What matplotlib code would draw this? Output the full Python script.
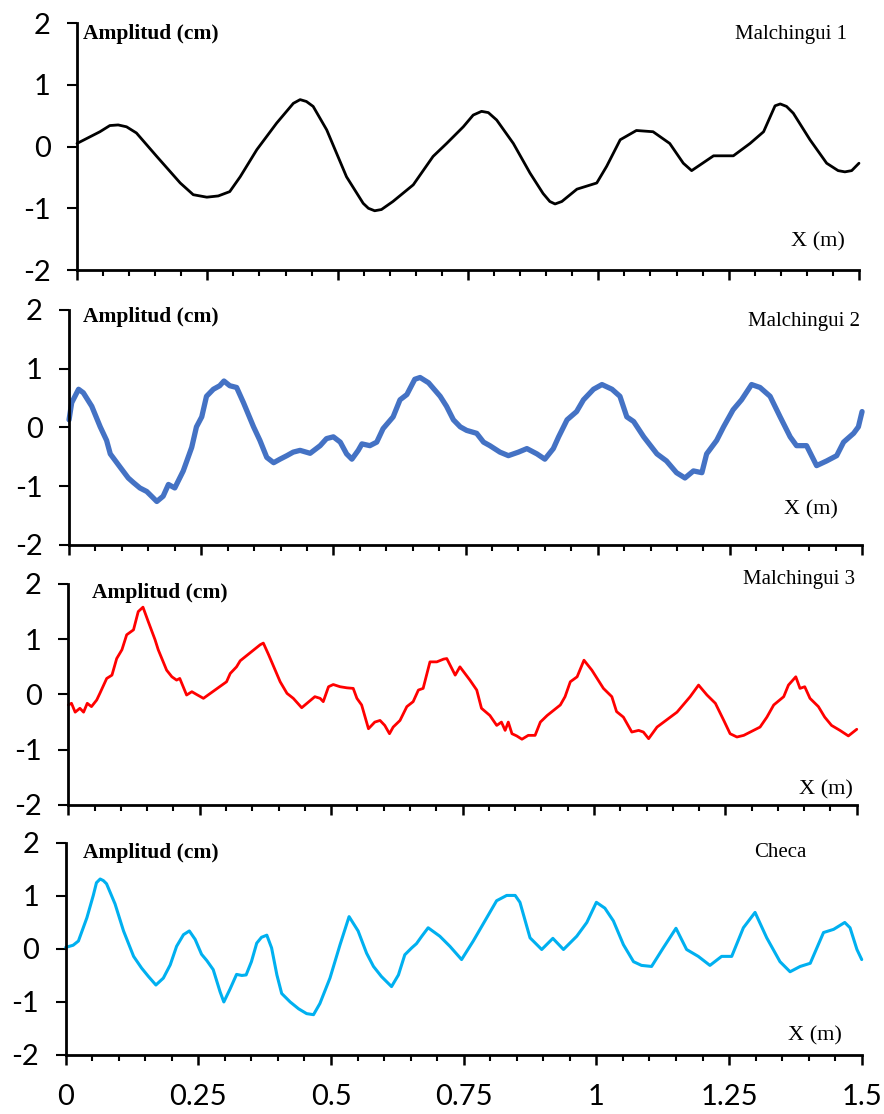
import matplotlib.pyplot as plt
from matplotlib.ticker import MultipleLocator

# -------------------------------------------------
# Data (x in m, amplitude in cm)
# -------------------------------------------------
x_m1 = [0.0, 0.044, 0.063, 0.079, 0.095, 0.114, 0.153, 0.198, 0.223, 0.249,
        0.271, 0.293, 0.313, 0.345, 0.383, 0.415, 0.428, 0.44, 0.453, 0.479,
        0.517, 0.549, 0.559, 0.571, 0.584, 0.606, 0.645, 0.683, 0.709, 0.741,
        0.76, 0.776, 0.789, 0.805, 0.837, 0.869, 0.894, 0.907, 0.917, 0.93,
        0.959, 0.997, 1.016, 1.042, 1.073, 1.105, 1.137, 1.163, 1.179, 1.221,
        1.259, 1.291, 1.317, 1.339, 1.349, 1.361, 1.374, 1.406, 1.438, 1.46,
        1.473, 1.486, 1.5]
y_m1 = [0.05, 0.24, 0.34, 0.35, 0.32, 0.22, -0.16, -0.59, -0.78, -0.82,
        -0.8, -0.73, -0.49, -0.05, 0.38, 0.7, 0.76, 0.73, 0.65, 0.27,
        -0.49, -0.92, -1.0, -1.04, -1.02, -0.89, -0.62, -0.16, 0.05, 0.32,
        0.51, 0.57, 0.55, 0.43, 0.05, -0.43, -0.76, -0.89, -0.93, -0.89,
        -0.69, -0.59, -0.32, 0.11, 0.26, 0.24, 0.05, -0.27, -0.39, -0.15,
        -0.15, 0.05, 0.24, 0.66, 0.69, 0.65, 0.54, 0.11, -0.27, -0.39,
        -0.41, -0.39, -0.27]

x_m2 = [0.0, 0.005, 0.018, 0.027, 0.043, 0.059, 0.071, 0.078, 0.097, 0.112,
        0.122, 0.134, 0.147, 0.156, 0.166, 0.178, 0.188, 0.2, 0.216, 0.232,
        0.241, 0.251, 0.26, 0.273, 0.285, 0.293, 0.304, 0.317, 0.33, 0.349,
        0.361, 0.374, 0.387, 0.399, 0.412, 0.424, 0.437, 0.456, 0.475, 0.487,
        0.5, 0.513, 0.525, 0.535, 0.547, 0.554, 0.569, 0.582, 0.594, 0.613,
        0.626, 0.639, 0.654, 0.664, 0.68, 0.702, 0.714, 0.727, 0.74, 0.752,
        0.771, 0.784, 0.796, 0.815, 0.831, 0.85, 0.866, 0.885, 0.9, 0.916,
        0.926, 0.942, 0.96, 0.973, 0.992, 1.008, 1.027, 1.042, 1.055, 1.068,
        1.087, 1.112, 1.13, 1.149, 1.165, 1.181, 1.197, 1.206, 1.225, 1.238,
        1.256, 1.272, 1.291, 1.307, 1.326, 1.345, 1.364, 1.376, 1.395, 1.414,
        1.433, 1.452, 1.465, 1.484, 1.493, 1.5]
y_m2 = [0.13, 0.42, 0.65, 0.59, 0.36, 0.01, -0.22, -0.45, -0.68, -0.86,
        -0.94, -1.03, -1.09, -1.17, -1.26, -1.17, -0.97, -1.03, -0.74, -0.34,
        0.01, 0.18, 0.53, 0.65, 0.71, 0.79, 0.71, 0.68, 0.42, 0.01,
        -0.22, -0.51, -0.6, -0.54, -0.48, -0.42, -0.39, -0.44, -0.31, -0.19,
        -0.16, -0.25, -0.45, -0.54, -0.39, -0.28, -0.31, -0.25, -0.02, 0.18,
        0.47, 0.56, 0.82, 0.85, 0.76, 0.53, 0.36, 0.13, 0.01, -0.05,
        -0.1, -0.25, -0.31, -0.42, -0.48, -0.42, -0.36, -0.45, -0.54, -0.36,
        -0.16, 0.13, 0.27, 0.47, 0.65, 0.73, 0.65, 0.53, 0.18, 0.1,
        -0.16, -0.45, -0.57, -0.77, -0.86, -0.74, -0.77, -0.45, -0.22, 0.01,
        0.3, 0.47, 0.73, 0.68, 0.53, 0.18, -0.16, -0.31, -0.31, -0.65,
        -0.57, -0.48, -0.25, -0.1, 0.01, 0.27]

x_m3 = [0.0, 0.006, 0.013, 0.022, 0.029, 0.036, 0.044, 0.054, 0.06, 0.073,
        0.083, 0.092, 0.102, 0.111, 0.124, 0.133, 0.142, 0.152, 0.165, 0.171,
        0.187, 0.197, 0.206, 0.212, 0.225, 0.235, 0.244, 0.257, 0.279, 0.301,
        0.308, 0.32, 0.327, 0.365, 0.371, 0.381, 0.403, 0.416, 0.428, 0.444,
        0.469, 0.479, 0.485, 0.495, 0.504, 0.517, 0.53, 0.542, 0.549, 0.558,
        0.571, 0.583, 0.593, 0.602, 0.611, 0.618, 0.631, 0.644, 0.656, 0.666,
        0.675, 0.688, 0.701, 0.714, 0.72, 0.736, 0.745, 0.764, 0.777, 0.786,
        0.802, 0.815, 0.824, 0.831, 0.837, 0.844, 0.853, 0.863, 0.875, 0.888,
        0.898, 0.911, 0.936, 0.945, 0.955, 0.968, 0.981, 0.996, 1.018, 1.034,
        1.043, 1.056, 1.072, 1.085, 1.094, 1.104, 1.12, 1.158, 1.183, 1.199,
        1.215, 1.231, 1.247, 1.259, 1.272, 1.285, 1.316, 1.329, 1.342, 1.361,
        1.37, 1.384, 1.392, 1.401, 1.411, 1.427, 1.439, 1.452, 1.468, 1.484,
        1.5]
y_m3 = [-0.19, -0.16, -0.32, -0.25, -0.32, -0.16, -0.22, -0.1, 0.02, 0.29,
        0.35, 0.65, 0.81, 1.08, 1.17, 1.5, 1.58, 1.32, 0.99, 0.81,
        0.44, 0.32, 0.26, 0.29, -0.01, 0.05, 0.0, -0.07, 0.08, 0.23,
        0.38, 0.5, 0.61, 0.9, 0.93, 0.72, 0.23, 0.02, -0.07, -0.24,
        -0.04, -0.07, -0.13, 0.14, 0.18, 0.14, 0.12, 0.11, -0.07, -0.19,
        -0.62, -0.5, -0.47, -0.56, -0.71, -0.59, -0.47, -0.22, -0.13, 0.08,
        0.11, 0.59, 0.59, 0.64, 0.65, 0.35, 0.5, 0.26, 0.08, -0.25,
        -0.38, -0.56, -0.5, -0.65, -0.5, -0.71, -0.75, -0.81, -0.74, -0.74,
        -0.5, -0.38, -0.19, -0.04, 0.23, 0.32, 0.62, 0.44, 0.11, -0.04,
        -0.31, -0.41, -0.68, -0.65, -0.68, -0.8, -0.59, -0.32, -0.04, 0.17,
        -0.01, -0.16, -0.47, -0.71, -0.77, -0.74, -0.59, -0.41, -0.19, -0.04,
        0.17, 0.32, 0.11, 0.14, -0.07, -0.22, -0.41, -0.56, -0.65, -0.75,
        -0.63]

x_checa = [0.0, 0.014, 0.024, 0.04, 0.052, 0.058, 0.065, 0.071, 0.077, 0.093,
           0.109, 0.128, 0.143, 0.156, 0.17, 0.184, 0.197, 0.209, 0.222, 0.233,
           0.244, 0.256, 0.266, 0.278, 0.291, 0.298, 0.31, 0.322, 0.332, 0.34,
           0.35, 0.36, 0.369, 0.379, 0.388, 0.398, 0.407, 0.423, 0.439, 0.454,
           0.467, 0.479, 0.498, 0.517, 0.534, 0.551, 0.567, 0.58, 0.595, 0.614,
           0.627, 0.639, 0.652, 0.661, 0.671, 0.683, 0.705, 0.724, 0.746, 0.768,
           0.79, 0.812, 0.831, 0.847, 0.856, 0.875, 0.897, 0.918, 0.938, 0.963,
           0.982, 1.0, 1.016, 1.032, 1.051, 1.07, 1.085, 1.104, 1.126, 1.15,
           1.17, 1.192, 1.214, 1.236, 1.255, 1.277, 1.299, 1.321, 1.346, 1.365,
           1.384, 1.403, 1.428, 1.447, 1.468, 1.478, 1.491, 1.5]
y_checa = [0.03, 0.07, 0.15, 0.59, 1.01, 1.25, 1.32, 1.29, 1.23, 0.85,
           0.34, -0.14, -0.36, -0.52, -0.68, -0.55, -0.3, 0.05, 0.27, 0.34,
           0.18, -0.1, -0.22, -0.39, -0.81, -1.0, -0.75, -0.48, -0.5, -0.49,
           -0.24, 0.11, 0.22, 0.26, 0.02, -0.49, -0.84, -1.0, -1.13, -1.22,
           -1.24, -1.03, -0.55, 0.08, 0.61, 0.34, -0.08, -0.33, -0.52, -0.71,
           -0.49, -0.11, 0.02, 0.1, 0.24, 0.4, 0.24, 0.05, -0.2, 0.15,
           0.53, 0.91, 1.01, 1.01, 0.88, 0.21, -0.01, 0.2, -0.01, 0.24,
           0.5, 0.88, 0.77, 0.53, 0.08, -0.24, -0.31, -0.33, 0.02, 0.39,
           -0.01, -0.14, -0.31, -0.14, -0.14, 0.4, 0.69, 0.21, -0.24, -0.43,
           -0.33, -0.27, 0.31, 0.37, 0.5, 0.4, -0.01, -0.2]

names = ["Malchingui 1", "Malchingui 2", "Malchingui 3", "Checa"]
xs = [x_m1, x_m2, x_m3, x_checa]
ys = [y_m1, y_m2, y_m3, y_checa]
colors = ["black", "#4472C4", "#FF0000", "#00B0F0"]
widths = [2.0, 3.8, 2.0, 2.2]

y_ticks = [-2, -1, 0, 1, 2]
x_ticks = [0, 0.25, 0.5, 0.75, 1, 1.25, 1.5]
x_tick_labels = ["0", "0.25", "0.5", "0.75", "1", "1.25", "1.5"]

# axes rectangles [left, bottom, width, height] in figure fraction
# (the four panels were pasted from different images, so they differ slightly)
rects = [
    [0.0871, 0.7576, 0.8846, 0.2217],
    [0.0781, 0.5108, 0.8971, 0.2110],
    [0.0773, 0.2774, 0.8919, 0.1984],
    [0.0743, 0.0530, 0.9005, 0.1903],
]
# label positions in axes fraction
amp_pos = [(0.008, 0.955), (0.018, 0.97), (0.03, 0.96), (0.022, 0.955)]
name_pos = [(0.985, 0.955), (0.998, 0.95), (0.998, 1.02), (0.93, 0.955)]
xm_pos = [(0.982, 0.115), (0.97, 0.15), (0.995, 0.07), (0.975, 0.09)]

tick_font = "Lato"
serif = "Liberation Serif"

fig = plt.figure(figsize=(8.84, 11.14), dpi=100)

for i in range(4):
    ax = fig.add_axes(rects[i])
    ax.plot(xs[i], ys[i], color=colors[i], lw=widths[i],
            solid_joinstyle="round", solid_capstyle="round", clip_on=False)

    ax.set_xlim(0, 1.5)
    ax.set_ylim(-2, 2)
    ax.set_yticks(y_ticks)
    ax.set_yticklabels([str(v) for v in y_ticks], fontname=tick_font, fontsize=21)
    ax.xaxis.set_major_locator(MultipleLocator(0.25))
    ax.xaxis.set_minor_locator(MultipleLocator(0.05))

    for side in ["top", "right"]:
        ax.spines[side].set_visible(False)
    for side in ["left", "bottom"]:
        ax.spines[side].set_linewidth(2.0)

    ax.tick_params(axis="y", direction="out", length=7, width=1.5, pad=12)
    ax.tick_params(axis="x", which="major", direction="out", length=7, width=1.8)
    ax.tick_params(axis="x", which="minor", direction="out", length=4.5, width=1.5)

    if i == 3:
        ax.set_xticks(x_ticks)
        ax.set_xticklabels(x_tick_labels, fontname=tick_font, fontsize=21)
        ax.tick_params(axis="x", which="major", pad=14)
    else:
        ax.tick_params(axis="x", labelbottom=False)

    ax.text(amp_pos[i][0], amp_pos[i][1], "Amplitud (cm)", transform=ax.transAxes,
            fontname=serif, fontweight="bold", fontsize=15.5, ha="left", va="center")
    ax.text(name_pos[i][0], name_pos[i][1], names[i], transform=ax.transAxes,
            fontname=serif, fontsize=15, ha="right", va="center")
    ax.text(xm_pos[i][0], xm_pos[i][1], "X (m)", transform=ax.transAxes,
            fontname=serif, fontsize=16, ha="right", va="center")

fig.savefig("out.png", dpi=100)
